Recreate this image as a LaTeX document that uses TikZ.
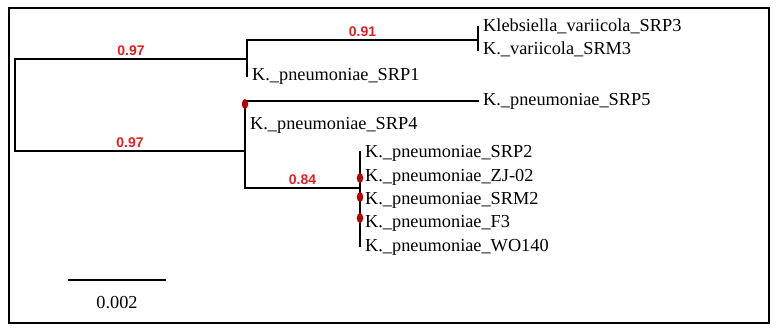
\documentclass[tikz,border=0pt]{standalone}
\usepackage{fontspec}
\setmainfont{Liberation Serif}
\newfontfamily\supportfont{Liberation Sans}
\usetikzlibrary{positioning}

\definecolor{supportred}{RGB}{230,30,35}
\definecolor{knotred}{RGB}{180,0,0}

\begin{document}
\begin{tikzpicture}[
    x=1pt, y=-1pt,
    branch/.style={line width=2.4pt, line cap=rect, draw=black},
    leaf/.style={
        anchor=west,
        inner xsep=5pt,
        inner ysep=0pt,
        text height=12pt,
        text depth=2pt,
        font=\fontsize{18.3}{20}\selectfont
    },
    support/.style={
        above=1.3pt,
        inner sep=1pt,
        text=supportred,
        font=\supportfont\bfseries\fontsize{14}{15}\selectfont
    },
    knot/.style={fill=knotred}
]
    \useasboundingbox (0,0) rectangle (778,334);
    \draw[line width=1.2pt] (9,8) rectangle (769,323);

    % internal nodes
    \coordinate (rt) at (15,59);
    \coordinate (rb) at (15,151);
    \coordinate (upper) at (247,59);
    \coordinate (lower) at (245,151);
    \coordinate (vari) at (478,40);
    \coordinate (pneu) at (360,188);

    % leaves
    \node[leaf] (srp3)  at (478,27)  {Klebsiella\_variicola\_SRP3};
    \node[leaf] (srm3)  at (478,50)  {K.\_variicola\_SRM3};
    \node[leaf] (srp1)  at (247,76)  {K.\_pneumoniae\_SRP1};
    \node[leaf] (srp5)  at (478,101) {K.\_pneumoniae\_SRP5};
    \node[leaf] (srp4)  at (245,124) {K.\_pneumoniae\_SRP4};
    \node[leaf] (srp2)  at (360,152) {K.\_pneumoniae\_SRP2};
    \node[leaf] (zj02)  at (360,176) {K.\_pneumoniae\_ZJ-02};
    \node[leaf] (srm2)  at (360,199) {K.\_pneumoniae\_SRM2};
    \node[leaf] (f3)    at (360,222) {K.\_pneumoniae\_F3};
    \node[leaf] (wo140) at (360,246) {K.\_pneumoniae\_WO140};

    % branches
    \draw[branch] (upper) -- node[support] {0.97} (rt) -- (rb)
        -- node[support] {0.97} (lower);
    \draw[branch] (vari) -| node[support, pos=0.25] {0.91} (srp1.west);
    \draw[branch] (srp3.west) -- (srm3.west);
    \draw[branch] (srp5.west) -| (srp4.west)
        |- node[support, pos=0.75] {0.84} (pneu);
    \draw[branch] (srp2.west) -- (wo140.west);

    % red marks
    \fill[knot] (245,104) ellipse (3.2 and 5);
    \fill[knot] (360,178) ellipse (3.2 and 5);
    \fill[knot] (360,197) ellipse (3.2 and 5);
    \fill[knot] (360,218) ellipse (3.2 and 5);

    % scale bar
    \coordinate (bar1) at (68,280);
    \coordinate (bar2) at (166,280);
    \draw[branch, line cap=butt] (bar1) -- (bar2);
    \node[font=\fontsize{18.3}{20}\selectfont] (barlabel) at (117,303) {0.002};

\end{tikzpicture}
\end{document}
